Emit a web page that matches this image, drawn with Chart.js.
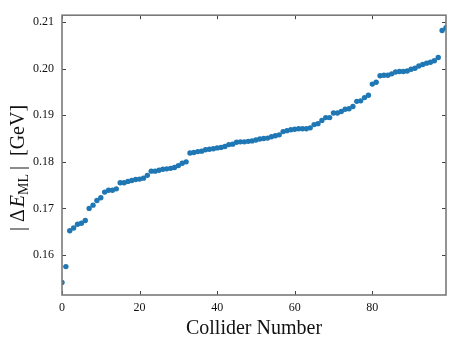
<!DOCTYPE html>
<html>
<head>
<meta charset="utf-8">
<script src="https://cdn.jsdelivr.net/npm/chart.js@4.4.1/dist/chart.umd.min.js"></script>
<style>
  html, body { margin: 0; padding: 0; background: #fff; }
  #wrap { width: 457px; height: 343px; }
</style>
</head>
<body>
<div id="wrap"><canvas id="chart" width="457" height="343"></canvas></div>
<script>
// |ΔE_ML| per collider, sorted ascending
const deltaE = [
  0.1541, 0.1575, 0.1652, 0.1658, 0.1666, 0.1668, 0.1674, 0.1700, 0.1707, 0.1717,
  0.1723, 0.1735, 0.1739, 0.1739, 0.1742, 0.1755, 0.1755, 0.1758, 0.1760, 0.1762,
  0.1763, 0.1765, 0.1771, 0.1780, 0.1780, 0.1782, 0.1784, 0.1785, 0.1786, 0.1788,
  0.1792, 0.1797, 0.1800, 0.1819, 0.1820, 0.1822, 0.1823, 0.1826, 0.1827, 0.1828,
  0.1830, 0.1831, 0.1833, 0.1837, 0.1838, 0.1842, 0.1843, 0.1843, 0.1844, 0.1845,
  0.1847, 0.1849, 0.1850, 0.1851, 0.1854, 0.1856, 0.1858, 0.1865, 0.1867, 0.1869,
  0.1870, 0.1871, 0.1871, 0.1871, 0.1873, 0.1880, 0.1882, 0.1889, 0.1895, 0.1895,
  0.1905, 0.1905, 0.1908, 0.1913, 0.1914, 0.1919, 0.1930, 0.1931, 0.1938, 0.1943,
  0.1967, 0.1971, 0.1985, 0.1986, 0.1986, 0.1989, 0.1993, 0.1994, 0.1994, 0.1995,
  0.1999, 0.2001, 0.2006, 0.2009, 0.2012, 0.2014, 0.2017, 0.2024, 0.2082, 0.2088,
];
const colliderNumber = deltaE.map((_, i) => i);

const xTicks = [0, 20, 40, 60, 80];
const yTicks = [0.16, 0.17, 0.18, 0.19, 0.20, 0.21];
const xRange = [0, 99];
const yRange = [0.1514, 0.2115];

const SERIF = '"Liberation Serif", "DejaVu Serif", serif';
const pointColor = '#1f77b4';
const spineColor = '#7a7a7a';
const tickColor = '#444';
const textColor = '#111';

// spines + inward ticks on all four sides (matplotlib style)
const framePlugin = {
  id: 'frame',
  afterDraw(chart) {
    const { ctx, chartArea: a, scales: { x, y } } = chart;
    const len = 4;
    ctx.save();
    ctx.strokeStyle = tickColor;
    ctx.lineWidth = 1;
    ctx.beginPath();
    xTicks.forEach(v => {
      const px = Math.round(x.getPixelForValue(v)) + 0.5;
      ctx.moveTo(px, a.bottom); ctx.lineTo(px, a.bottom - len);
      ctx.moveTo(px, a.top); ctx.lineTo(px, a.top + len);
    });
    yTicks.forEach(v => {
      const py = Math.round(y.getPixelForValue(v)) + 0.5;
      ctx.moveTo(a.left, py); ctx.lineTo(a.left + len, py);
      ctx.moveTo(a.right, py); ctx.lineTo(a.right - len, py);
    });
    ctx.stroke();
    ctx.strokeStyle = spineColor;
    ctx.lineWidth = 1.6;
    ctx.strokeRect(a.left, a.top, a.right - a.left, a.bottom - a.top);
    ctx.restore();
  },
};

// y title |ΔE_ML| [GeV] with italic E and subscript ML
const yTitlePlugin = {
  id: 'yTitle',
  afterDraw(chart) {
    const { ctx } = chart;
    const big = `20px ${SERIF}`;
    const ital = `italic 20px ${SERIF}`;
    const sub = `14px ${SERIF}`;
    const parts = [
      { t: '|', f: big, dy: 0, gap: 5 },
      { t: 'Δ', f: big, dy: 0, gap: 2 },
      { t: 'E', f: ital, dy: 0, gap: 0 },
      { t: 'ML', f: sub, dy: 4, gap: 4 },
      { t: '|', f: big, dy: 0, gap: 10 },
      { t: '[GeV]', f: big, dy: 0, gap: 0 },
    ];
    let total = 0;
    parts.forEach(p => { ctx.font = p.f; p.w = ctx.measureText(p.t).width; total += p.w + p.gap; });
    ctx.save();
    ctx.translate(24, 168);
    ctx.rotate(-Math.PI / 2);
    ctx.fillStyle = textColor;
    ctx.textBaseline = 'alphabetic';
    ctx.textAlign = 'left';
    let cx = -total / 2;
    parts.forEach(p => {
      ctx.font = p.f;
      ctx.fillText(p.t, cx, p.dy);
      cx += p.w + p.gap;
    });
    ctx.restore();
  },
};

new Chart(document.getElementById('chart'), {
  type: 'scatter',
  data: {
    datasets: [{
      data: colliderNumber.map((c, i) => ({ x: c, y: deltaE[i] })),
      backgroundColor: pointColor,
      borderWidth: 0,
      pointRadius: 2.7,
      pointHoverRadius: 2.7,
      clip: 0,
    }],
  },
  options: {
    responsive: false,
    devicePixelRatio: 1,
    animation: false,
    layout: { padding: { top: 11, right: 11, left: 0, bottom: 0 } },
    plugins: { legend: { display: false }, tooltip: { enabled: false } },
    scales: {
      x: {
        type: 'linear',
        min: xRange[0],
        max: xRange[1],
        afterBuildTicks: s => { s.ticks = xTicks.map(v => ({ value: v })); },
        afterFit: s => { s.height = 48; },
        grid: { display: false, drawTicks: false },
        border: { display: false },
        ticks: {
          color: textColor,
          padding: 6,
          maxRotation: 0,
          font: { family: SERIF, size: 12 },
          callback: v => String(v),
        },
        title: {
          display: true,
          text: 'Collider Number',
          color: textColor,
          font: { family: SERIF, size: 20 },
          padding: { top: 0, bottom: 2 },
        },
      },
      y: {
        type: 'linear',
        min: yRange[0],
        max: yRange[1],
        afterBuildTicks: s => { s.ticks = yTicks.map(v => ({ value: v })); },
        afterFit: s => { s.width = 62; },
        grid: { display: false, drawTicks: false },
        border: { display: false },
        ticks: {
          color: textColor,
          padding: 8,
          font: { family: SERIF, size: 12 },
          callback: v => v.toFixed(2),
        },
      },
    },
  },
  plugins: [framePlugin, yTitlePlugin],
});
</script>
</body>
</html>
